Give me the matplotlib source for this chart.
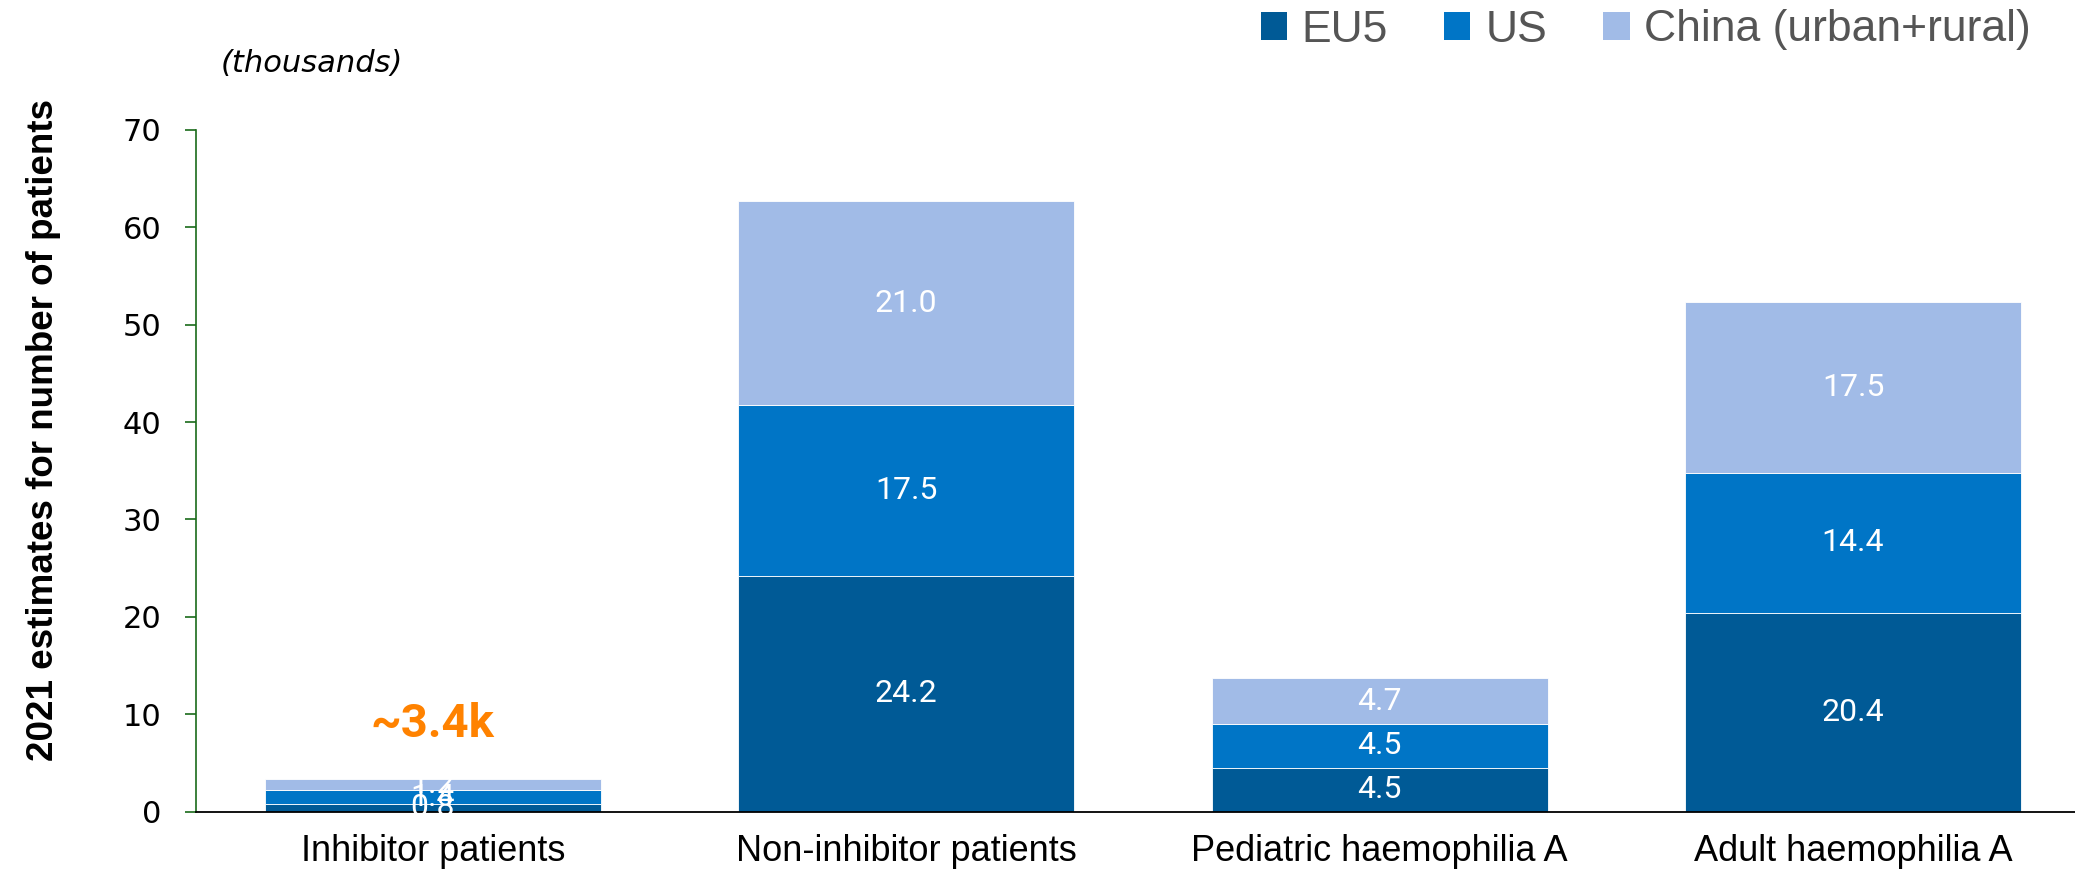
import numpy as np
import matplotlib
matplotlib.use("Agg")
import matplotlib.pyplot as plt
from matplotlib.patches import Patch

# ===== Data ===================================================================

categories = ["Inhibitor patients", "Non-inhibitor patients",
              "Pediatric haemophilia A", "Adult haemophilia A"]
series_names = ["EU5", "US", "China (urban+rural)"]
eu5 = [0.8, 24.2, 4.5, 20.4]
us = [1.4, 17.5, 4.5, 14.4]
china = [1.2, 21.0, 4.7, 17.5]
callout = "~3.4k"

colors = ["#005A96", "#0075C6", "#A1BBE7"]

# ===== Figure =================================================================

fig = plt.figure(figsize=(20.75, 8.82), dpi=100)
ax = fig.add_axes([0.0945, 0.0797, 0.9126, 0.7732])

x = np.arange(len(categories))
bottom = np.zeros(len(categories))
for name, vals, col in zip(series_names, [eu5, us, china], colors):
    ax.bar(x, vals, width=0.71, bottom=bottom, color=col,
           edgecolor="white", linewidth=0.6, label=name)
    for xi, b, v in zip(x, bottom, vals):
        ax.text(xi, b + v / 2, f"{v:.1f}", ha="center", va="center",
                color="white", fontsize=23, family=["Roboto", "DejaVu Sans"])
    bottom += np.array(vals)

# total callout above the inhibitor bar
ax.text(x[0], bottom[0] + 4.3, callout, ha="center", va="baseline",
        color="#FF8200", fontsize=34, fontweight="bold",
        family=["Roboto", "DejaVu Sans"])

ax.set_xlim(-0.5, 3.5)
ax.set_ylim(0, 70)
ax.set_yticks(range(0, 71, 10))
ax.set_xticks(x)
ax.set_xticklabels(categories, fontsize=26, family=["Liberation Sans", "DejaVu Sans"])
ax.tick_params(axis="x", length=0, pad=16)
ax.tick_params(axis="y", length=8, width=1.2, color="#1a6b1a",
               labelsize=22, pad=17)
for lbl in ax.get_yticklabels():
    lbl.set_family("DejaVu Sans")

for s in ["top", "right"]:
    ax.spines[s].set_visible(False)
ax.spines["left"].set_color("#1a6b1a")
ax.spines["left"].set_linewidth(1.2)
ax.spines["bottom"].set_color("black")
ax.spines["bottom"].set_linewidth(1.3)

# y label drawn as figure text so its centre can be placed directly
fig.text(44 / 2075, 1 - 430 / 882, "2021 estimates for number of patients",
         rotation=90, ha="center", va="center", fontsize=26.5,
         fontweight="bold", family=["Liberation Sans", "DejaVu Sans"])

fig.text(312 / 2075, 1 - 63 / 882, "(thousands)", ha="center", va="center",
         fontsize=22, style="italic", family=["DejaVu Sans"])

handles = [Patch(facecolor=c, edgecolor="none") for c in colors]
leg = fig.legend(handles, series_names, loc="center right",
                 bbox_to_anchor=(2031 / 2075, 1 - 30 / 882), ncol=3,
                 frameon=False, borderpad=0, borderaxespad=0,
                 handlelength=0.59, handleheight=0.59, handletextpad=0.33,
                 columnspacing=1.27,
                 prop={"family": ["Liberation Sans", "DejaVu Sans"],
                       "size": 32})
for t in leg.get_texts():
    t.set_color("#555555")

fig.savefig("out.png", dpi=100)
